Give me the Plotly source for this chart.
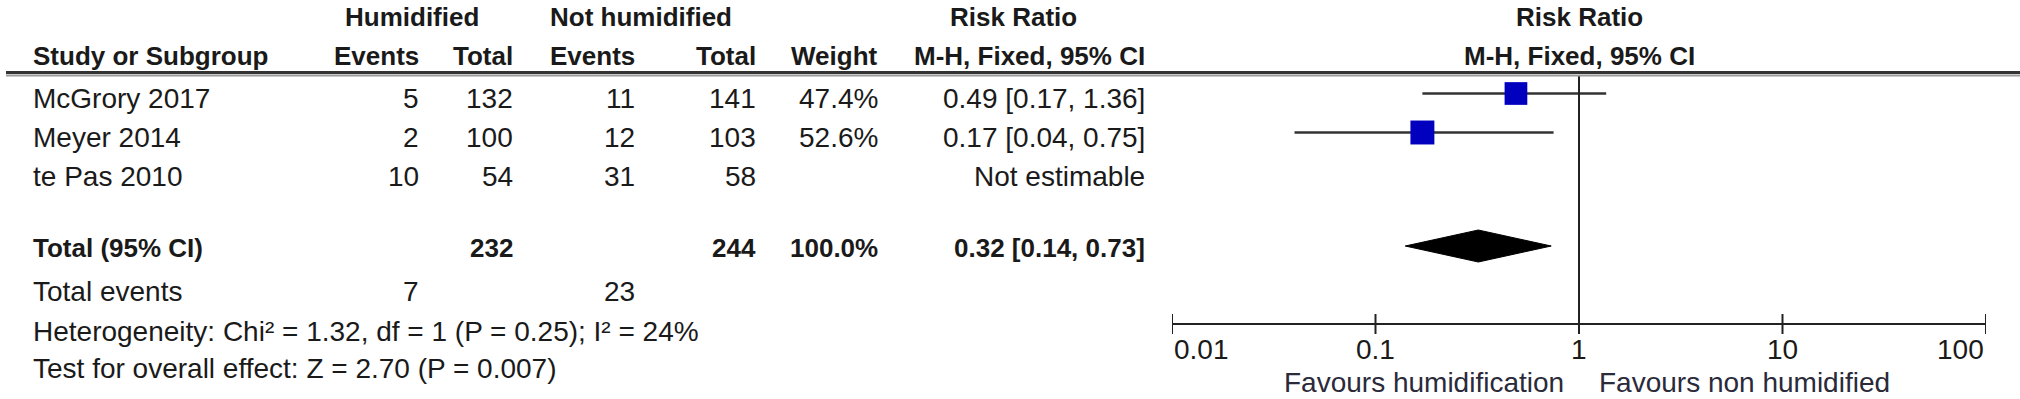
import math
import plotly.graph_objects as go

# ---------------- data ----------------
studies = ["McGrory 2017", "Meyer 2014", "te Pas 2010"]
hum_events = [5, 2, 10]
hum_total = [132, 100, 54]
ctl_events = [11, 12, 31]
ctl_total = [141, 103, 58]
weights = [47.4, 52.6, None]
rr = [0.49, 0.17, None]
rr_lo = [0.17, 0.04, None]
rr_hi = [1.36, 0.75, None]

total_hum = 232
total_ctl = 244
total_weight = 100.0
total_rr = 0.32
total_lo = 0.14
total_hi = 0.73
total_events_hum = 7
total_events_ctl = 23
heterogeneity = "Heterogeneity: Chi² = 1.32, df = 1 (P = 0.25); I² = 24%"
overall_effect = "Test for overall effect: Z = 2.70 (P = 0.007)"

tick_vals = [0.01, 0.1, 1, 10, 100]
tick_labels = ["0.01", "0.1", "1", "10", "100"]
favours_left = "Favours humidification"
favours_right = "Favours non humidified"

# ---------------- layout constants (pixels) ----------------
W, H = 2020, 399
FONT = "Liberation Sans, Arial, Helvetica, sans-serif"
TXT = "#1a1a1a"
REG = 28
BOLD = 26
row_text_y = [98, 137, 176]
row_mark_dy = -4.5
total_y = 248
events_y = 291
het_y = 331
test_y = 368
hdr1_y = 17
hdr2_y = 56
axis_y = 324
tick_half = 10
ticklab_y = 349
fav_y = 382

col_study = 31
col_he = 421
col_ht = 515
col_ce = 637
col_ct = 758
col_w = 880
col_rr = 1147

fig = go.Figure()
ann = []


def t(x, y, text, anchor="right", bold=False, size=None):
    ann.append(dict(
        x=x / W, xref="paper", y=y, yref="y", text=("<b>%s</b>" % text) if bold else text,
        showarrow=False, xanchor=anchor, yanchor="middle",
        font=dict(family=FONT, size=size or (BOLD if bold else REG), color=TXT),
    ))


# headers
t(412, hdr1_y, "Humidified", "center", True)
t(641, hdr1_y, "Not humidified", "center", True)
t(1013, hdr1_y, "Risk Ratio", "center", True)
t(col_study, hdr2_y, "Study or Subgroup", "left", True)
t(col_he, hdr2_y, "Events", "right", True)
t(col_ht, hdr2_y, "Total", "right", True)
t(col_ce, hdr2_y, "Events", "right", True)
t(col_ct, hdr2_y, "Total", "right", True)
t(col_w, hdr2_y, "Weight", "right", True)
t(col_rr, hdr2_y, "M-H, Fixed, 95% CI", "right", True)
ann.append(dict(x=0, xref="x", y=hdr1_y, yref="y", text="<b>Risk Ratio</b>", showarrow=False,
                xanchor="center", yanchor="middle", font=dict(family=FONT, size=BOLD, color=TXT)))
ann.append(dict(x=0, xref="x", y=hdr2_y, yref="y", text="<b>M-H, Fixed, 95% CI</b>", showarrow=False,
                xanchor="center", yanchor="middle", font=dict(family=FONT, size=BOLD, color=TXT)))

# study rows
for i, s in enumerate(studies):
    y = row_text_y[i]
    t(col_study, y, s, "left")
    t(col_he, y, str(hum_events[i]))
    t(col_ht, y, str(hum_total[i]))
    t(col_ce, y, str(ctl_events[i]))
    t(col_ct, y, str(ctl_total[i]))
    if weights[i] is not None:
        t(col_w, y, "%.1f%%" % weights[i])
    if rr[i] is not None:
        t(col_rr, y, "%.2f [%.2f, %.2f]" % (rr[i], rr_lo[i], rr_hi[i]))
    else:
        t(col_rr, y, "Not estimable")

# total rows
t(col_study, total_y, "Total (95% CI)", "left", True)
t(col_ht, total_y, str(total_hum), "right", True)
t(col_ct, total_y, str(total_ctl), "right", True)
t(col_w, total_y, "%.1f%%" % total_weight, "right", True)
t(col_rr, total_y, "%.2f [%.2f, %.2f]" % (total_rr, total_lo, total_hi), "right", True)
t(col_study, events_y, "Total events", "left")
t(col_he, events_y, str(total_events_hum))
t(col_ce, events_y, str(total_events_ctl))
t(col_study, het_y, heterogeneity, "left")
t(col_study, test_y, overall_effect, "left")

# CI lines and squares
for i in range(len(studies)):
    if rr[i] is None:
        continue
    y = row_text_y[i] + row_mark_dy
    fig.add_trace(go.Scatter(x=[rr_lo[i], rr_hi[i]], y=[y, y], mode="lines",
                             line=dict(color="#333333", width=2.5), hoverinfo="skip"))
for i in range(len(studies)):
    if rr[i] is None:
        continue
    y = row_text_y[i] + row_mark_dy
    fig.add_trace(go.Scatter(x=[rr[i]], y=[y], mode="markers",
                             marker=dict(symbol="square", size=3.3 * math.sqrt(weights[i]),
                                         color="#0000BE", line=dict(width=0)),
                             hoverinfo="skip"))

# diamond
dy = 16
fig.add_trace(go.Scatter(
    x=[total_lo, total_rr, total_hi, total_rr, total_lo],
    y=[total_y - 2, total_y - 2 - dy, total_y - 2, total_y - 2 + dy, total_y - 2],
    mode="lines", fill="toself", fillcolor="#000000",
    line=dict(color="#000000", width=1), hoverinfo="skip"))

# line of no effect
fig.add_trace(go.Scatter(x=[1, 1], y=[76, axis_y], mode="lines",
                         line=dict(color="#222222", width=2), hoverinfo="skip"))

# axis line and ticks
fig.add_trace(go.Scatter(x=[tick_vals[0], tick_vals[-1]], y=[axis_y, axis_y], mode="lines",
                         line=dict(color="#222222", width=2), hoverinfo="skip"))
tx, ty = [], []
for v in tick_vals:
    tx += [v, v, None]
    ty += [axis_y - tick_half, axis_y + tick_half, None]
fig.add_trace(go.Scatter(x=tx, y=ty, mode="lines", line=dict(color="#222222", width=2),
                         hoverinfo="skip"))

for j, (v, lab) in enumerate(zip(tick_vals, tick_labels)):
    anchor = "left" if j == 0 else ("right" if j == len(tick_vals) - 1 else "center")
    ann.append(dict(x=math.log10(v), xref="x", y=ticklab_y, yref="y", text=lab, showarrow=False,
                    xanchor=anchor, yanchor="middle", font=dict(family=FONT, size=REG, color=TXT)))

ann.append(dict(x=0, xref="x", y=fav_y, yref="y", text=favours_left, showarrow=False,
                xanchor="right", yanchor="middle", xshift=-13,
                font=dict(family=FONT, size=REG, color="#2a2a3a")))
ann.append(dict(x=0, xref="x", y=fav_y, yref="y", text=favours_right, showarrow=False,
                xanchor="left", yanchor="middle", xshift=18,
                font=dict(family=FONT, size=REG, color="#2a2a3a")))

# header double rule
shapes = [
    dict(type="line", xref="paper", yref="y", x0=6 / W, x1=1, y0=72.5, y1=72.5,
         line=dict(color="#333333", width=3)),
    dict(type="line", xref="paper", yref="y", x0=6 / W, x1=1, y0=75.5, y1=75.5,
         line=dict(color="#9a9a9a", width=2)),
]

fig.update_layout(
    width=W, height=H,
    margin=dict(l=0, r=0, t=0, b=0),
    paper_bgcolor="white", plot_bgcolor="white",
    showlegend=False,
    annotations=ann, shapes=shapes,
    xaxis=dict(type="log", range=[-2, 2], domain=[1172 / W, 1986 / W], visible=False,
               fixedrange=True),
    yaxis=dict(range=[H, 0], domain=[0, 1], visible=False, fixedrange=True),
)

fig.write_html(
    "out.html",
    config={"displayModeBar": False, "staticPlot": True},
    post_script="document.body.style.margin='0';document.body.style.overflow='hidden';",
)
